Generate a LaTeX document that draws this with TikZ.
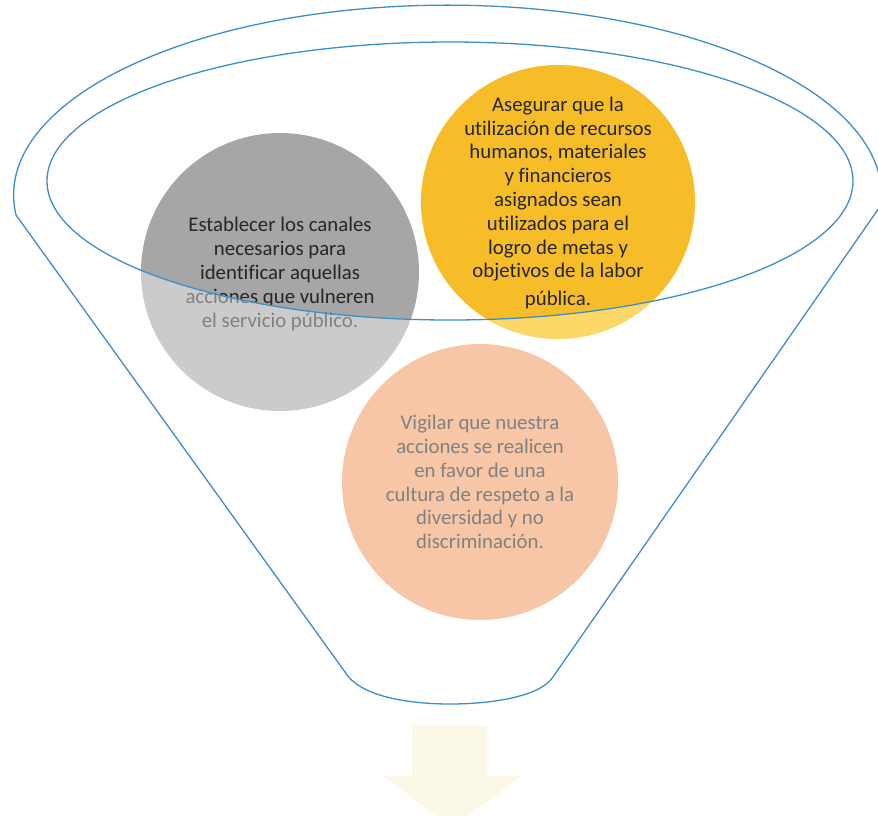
\documentclass[tikz,border=0pt]{standalone}
\usepackage{fontspec}
\setmainfont{Carlito}[RawFeature=-liga]
\definecolor{funnelblue}{HTML}{3C8FC8}
\definecolor{graycirc}{HTML}{A6A6A6}
\definecolor{yellowcirc}{HTML}{F6BD28}
\definecolor{yellowtint}{HTML}{FFD83A}
\definecolor{orangecirc}{HTML}{F29E68}
\definecolor{textdark}{HTML}{262626}
\definecolor{arrowcream}{HTML}{FCF8E8}
\tikzset{
  circtext/.style={align=center, font=\fontsize{20.8}{23.8}\selectfont, text=textdark, inner sep=0pt},
  funnelline/.style={draw=funnelblue, line width=1.3pt},
}
\begin{document}
\begin{tikzpicture}[x=1pt,y=-1pt]
\useasboundingbox (0,0) rectangle (878,815);
% circles
\fill[graycirc] (280,272) circle (139);
\fill[yellowcirc] (558,202) circle (137);
\fill[orangecirc] (480,482) circle (138);
\node[circtext] (gray) at (280,274) {Establecer los canales\\necesarios para\\identificar aquellas\\acciones que vulneren\\el servicio público.};
\node[circtext] (yellow) at (558,203) {Asegurar que la\\utilización de recursos\\humanos, materiales\\y financieros\\asignados sean\\utilizados para el\\logro de metas y\\objetivos de la labor\\[4pt]pública.};
\node[circtext] (orange) at (480,482) {Vigilar que nuestra\\acciones se realicen\\en favor de una\\cultura de respeto a la\\diversidad y no\\discriminación.};
% fade everything outside the inner rim
\fill[white, fill opacity=0.42, even odd rule] (-5,-5) rectangle (883,820) (450,181) ellipse [x radius=403, y radius=139];
\begin{scope}
  \clip (558,202) circle (137);
  \fill[yellowtint, fill opacity=0.35, even odd rule] (-5,-5) rectangle (883,820) (450,181) ellipse [x radius=403, y radius=139];
\end{scope}
% funnel outline
\draw[funnelline] (345,672) -- (16,215)
  arc[start angle=174, end angle=363, x radius=434, y radius=190]
  -- (553,677) .. controls (540,697) and (490,704) .. (450,704)
  .. controls (410,704) and (360,697) .. (345,672) -- cycle;
% inner rim
\draw[funnelline] (450,181) ellipse [x radius=403, y radius=139];
% arrow
\fill[arrowcream] (412,725) -- (487,725) -- (487,776) -- (522,776) -- (452,827) -- (383,776) -- (412,776) -- cycle;
\end{tikzpicture}
\end{document}
